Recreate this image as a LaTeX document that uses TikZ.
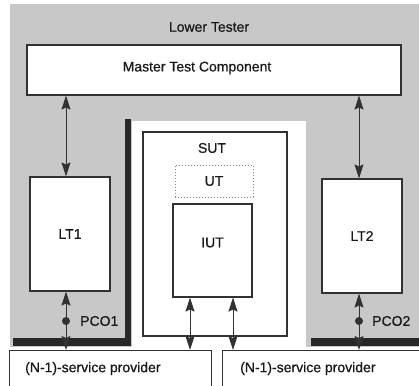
\documentclass[tikz,border=0pt]{standalone}
\usepackage{fontspec}
\setmainfont{Liberation Sans}[FakeBold=0.7]
\usetikzlibrary{arrows.meta,calc}
\definecolor{bggray}{RGB}{200,200,200}
\definecolor{barc}{RGB}{40,40,40}
\definecolor{linec}{RGB}{50,50,50}
\definecolor{txtc}{RGB}{25,25,25}
\begin{document}
\begin{tikzpicture}[x=1pt,y=-1pt,
  font=\fontsize{14}{16}\selectfont, text=txtc,
  box/.style={draw=linec, line width=1.1pt, fill=white, inner sep=0pt},
  tip/.style={Stealth[length=14pt,width=9pt,inset=2pt]},
  dbl/.style={{Stealth[length=14pt,width=9pt,inset=2pt]}-{Stealth[length=14pt,width=9pt,inset=2pt]}, draw=linec, line width=1pt},
  lbl/.style={inner sep=0pt, text=txtc},
  dot/.style={circle, fill=linec, inner sep=0pt, minimum size=8pt}]
\useasboundingbox (0,0) rectangle (419,385);
% background regions
\fill[bggray] (10,4) rectangle (419,347);
\fill[white] (132,121) rectangle (306,350);
\fill[barc] (125,119) rectangle (131,346);
\fill[barc] (13,338) rectangle (131,346);
\fill[barc] (311,338) rectangle (419,346);

\node[lbl] (lt) at (209,27) {Lower Tester};
\node[box, minimum width=374pt, minimum height=50pt,
  label={[lbl,xshift=-17pt,yshift=2pt]center:Master Test Component}] (mtc) at (214,70) {};

\node[box, minimum width=80pt, minimum height=114pt] (lt1) at (70,234) {LT1};
\node[box, minimum width=80pt, minimum height=114pt] (lt2) at (362,236) {LT2};

\node[box, minimum width=144pt, minimum height=204pt] (sut) at (215,234) {};
\node[lbl] (suttxt) at (212,148) {SUT};
\node[draw=black!45, dotted, line width=1pt, minimum width=78pt, minimum height=32pt, inner sep=0pt] (ut) at (214,181) {UT};
\node[box, minimum width=79pt, minimum height=93pt,
  label={[lbl,yshift=8pt]center:IUT}] (iut) at (212.5,250.5) {};

\node[box, anchor=north west, minimum width=202pt, minimum height=50pt,
  label={[lbl,anchor=west,xshift=16pt,yshift=7pt]west:(N-1)-service provider}] (prov1) at (9,350) {};
\node[box, anchor=north west, minimum width=210pt, minimum height=50pt,
  label={[lbl,anchor=west,xshift=18pt,yshift=7pt]west:(N-1)-service provider}] (prov2) at (222,350) {};

% x positions for connectors
\coordinate (xa) at (66,0);
\coordinate (xb) at (359,0);
\coordinate (xc) at (190,0);
\coordinate (xd) at (233,0);

\draw[dbl] (mtc.south -| xa) -- (lt1.north -| xa);
\draw[dbl] (mtc.south -| xb) -- (lt2.north -| xb);
\draw[dbl] (iut.south -| xc) -- (prov1.north -| xc);
\draw[dbl] (iut.south -| xd) -- (prov2.north -| xd);

\draw[dbl] (lt1.south -| xa) -- (prov1.north -| xa);
\draw[dbl] (lt2.south -| xb) -- (prov2.north -| xb);
\node[dot] (pco1) at (66,321) {};
\node[dot] (pco2) at (359,321) {};
\node[lbl, anchor=west] (pco1txt) at (80,321) {PCO1};
\node[lbl, anchor=west] (pco2txt) at (372,321) {PCO2};
\end{tikzpicture}
\end{document}
